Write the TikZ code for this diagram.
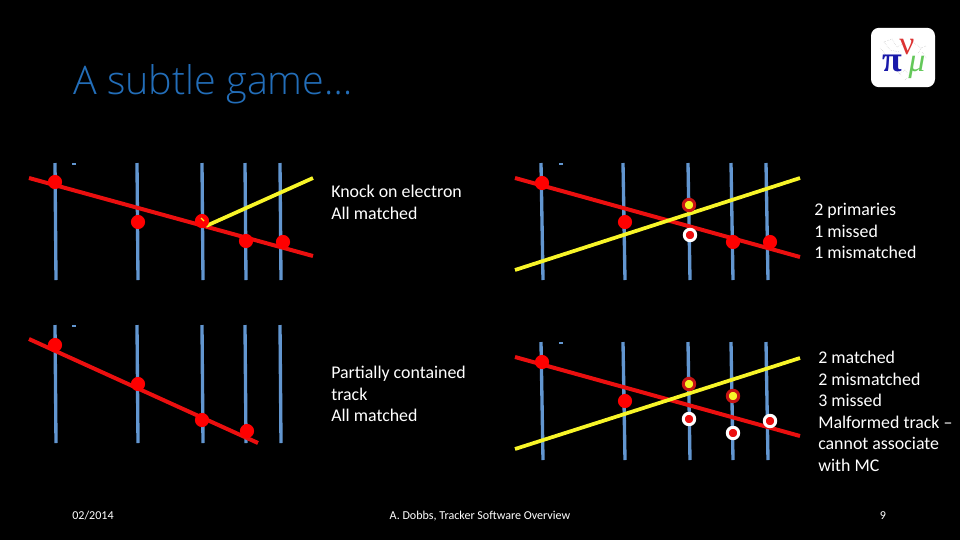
\documentclass[tikz,border=0pt]{standalone}
\usepackage{fontspec}
\setmainfont{Carlito}
\newfontfamily\titlefont{Open Sans Light}
\newfontfamily\logofont{Liberation Serif}
\definecolor{wire}{RGB}{98,150,208}
\definecolor{trk}{RGB}{235,15,15}
\definecolor{hitred}{RGB}{255,0,0}
\definecolor{ylw}{RGB}{248,245,40}
\definecolor{ttl}{RGB}{35,110,185}
\definecolor{darkred}{RGB}{200,20,20}
\definecolor{logob}{RGB}{25,25,170}
\definecolor{logor}{RGB}{220,50,50}
\definecolor{logog}{RGB}{100,200,90}
\tikzset{
 wireline/.style={draw=wire,line width=2.5pt},
 redtrack/.style={draw=trk,line width=3pt},
 ylwtrack/.style={draw=ylw,line width=2.8pt},
 hit/.style={circle,fill=hitred,inner sep=0pt,minimum size=10.6pt},
 ghostw/.style={circle,fill=trk,draw=white,line width=2.2pt,inner sep=0pt,minimum size=8.6pt},
 ghosty/.style={circle,fill=ylw,draw=darkred,line width=2.2pt,inner sep=0pt,minimum size=8.6pt},
 body/.style={text=white,font=\fontsize{13.4pt}{16.15pt}\selectfont,align=left,anchor=north west,inner sep=0pt},
 foot/.style={text=white,font=\fontsize{9.05pt}{10pt}\selectfont,inner sep=0pt},
 tick/.style={fill=wire,inner sep=0pt,minimum width=3pt,minimum height=1.2pt},
 splat/.style={draw=black!45,line width=0.25pt,densely dotted}
}
\begin{document}
\begin{tikzpicture}[x=0.75pt,y=-0.75pt]
\useasboundingbox (0,0) rectangle (960,540);
\fill[black] (0,0) rectangle (960,540);
% title
\node[anchor=west,text=ttl,inner sep=0pt,font=\titlefont\fontsize{29.6pt}{32pt}\selectfont] (title) at (73,84) {A subtle game…};
% logo
\node[fill=white,rounded corners=6pt,minimum width=48pt,minimum height=44.5pt,inner sep=0pt] (logo) at (903,57.5) {};
\foreach \a/\b/\c/\d in {884/42/892/39,892/39/897/47,884/42/890/50,890/50/899/52,897/47/904/43,880/48/886/55,905/70/910/77,910/77/904/80,899/74/905/70,913/42/921/48,921/48/926/46,921/48/918/54,926/58/922/52,896/70/902/76}{
 \draw[splat] (\a,\b)--(\c,\d);
}
\node[text=logob,inner sep=0pt,font=\logofont\fontsize{27pt}{27pt}\selectfont\bfseries] (pi) at (892,63) {π};
\node[text=logor,inner sep=0pt,font=\logofont\fontsize{25pt}{25pt}\selectfont] (nu) at (907,47) {ν};
\node[text=logog,inner sep=0pt,font=\logofont\fontsize{25pt}{25pt}\selectfont\itshape] (mu) at (917,67) {μ};
% panel A
\foreach \x in {55,137,202,245,280}{\draw[wireline] (\x,163)--(\x+1,280);}
\node[tick] (ta) at (74,164) {};
\coordinate (a1) at (29,178); \coordinate (a2) at (313,256);
\draw[redtrack] (a1)--(a2);
\coordinate (ay1) at (206,226); \coordinate (ay2) at (313,178);
\draw[ylwtrack] (ay1)--(ay2);
\node[hit] (h1) at (55,182) {};
\node[hit] (h2) at (138,222) {};
\node[hit] (h3) at (202,221) {};
\node[hit] (h4) at (246,241) {};
\node[hit] (h5) at (283,242) {};
\draw[ylw,line width=0.8pt] (201,218)--(204,221);
% panel B
\foreach \x in {542,624,689,732,767}{\draw[wireline] (\x-1,163)--(\x+1,280);}
\node[tick] (tb) at (561,164) {};
\coordinate (b1) at (515,178); \coordinate (b2) at (800,257);
\coordinate (b3) at (515,270); \coordinate (b4) at (800,178);
\draw[redtrack] (b1)--(b2);
\draw[ylwtrack] (b3)--(b4);
\node[hit] (i1) at (542,183) {};
\node[hit] (i2) at (625,222) {};
\node[hit] (i3) at (733,242) {};
\node[hit] (i4) at (770,242) {};
\node[ghosty] (i5) at (689,205) {};
\node[ghostw] (i6) at (690,235) {};
% panel C
\foreach \x in {55,137,202,245,280}{\draw[wireline] (\x,325)--(\x+1,443);}
\node[tick] (tc) at (74,326) {};
\coordinate (c1) at (29,339); \coordinate (c2) at (258,443);
\draw[redtrack] (c1)--(c2);
\node[hit] (j1) at (55,345) {};
\node[hit] (j2) at (138,384) {};
\node[hit] (j3) at (202,420) {};
\node[hit] (j4) at (247,431) {};
% panel D
\foreach \x in {542,624,689,732,767}{\draw[wireline] (\x-1,342)--(\x+1,460);}
\node[tick] (td) at (561,343) {};
\coordinate (d1) at (515,357); \coordinate (d2) at (800,436);
\coordinate (d3) at (515,449); \coordinate (d4) at (800,358);
\draw[redtrack] (d1)--(d2);
\draw[ylwtrack] (d3)--(d4);
\node[hit] (k1) at (542,362) {};
\node[hit] (k2) at (625,401) {};
\node[ghosty] (k3) at (689,384) {};
\node[ghosty] (k4) at (733,396) {};
\node[ghostw] (k5) at (689,419) {};
\node[ghostw] (k6) at (733,433) {};
\node[ghostw] (k7) at (770,421) {};
% text
\node[body] (t1) at (331,185) {Knock on electron\\All matched};
\node[body] (t2) at (331,366) {Partially contained\\track\\All matched};
\node[body] (t3) at (814,203) {2 primaries\\1 missed\\1 mismatched};
\node[body] (t4) at (818,351) {2 matched\\2 mismatched\\3 missed\\Malformed track –\\cannot associate\\with MC};
\node[foot,anchor=west] (f1) at (72,516) {02/2014};
\node[foot] (f2) at (480,516) {A. Dobbs, Tracker Software Overview};
\node[foot] (f3) at (883,516) {9};
\end{tikzpicture}
\end{document}
